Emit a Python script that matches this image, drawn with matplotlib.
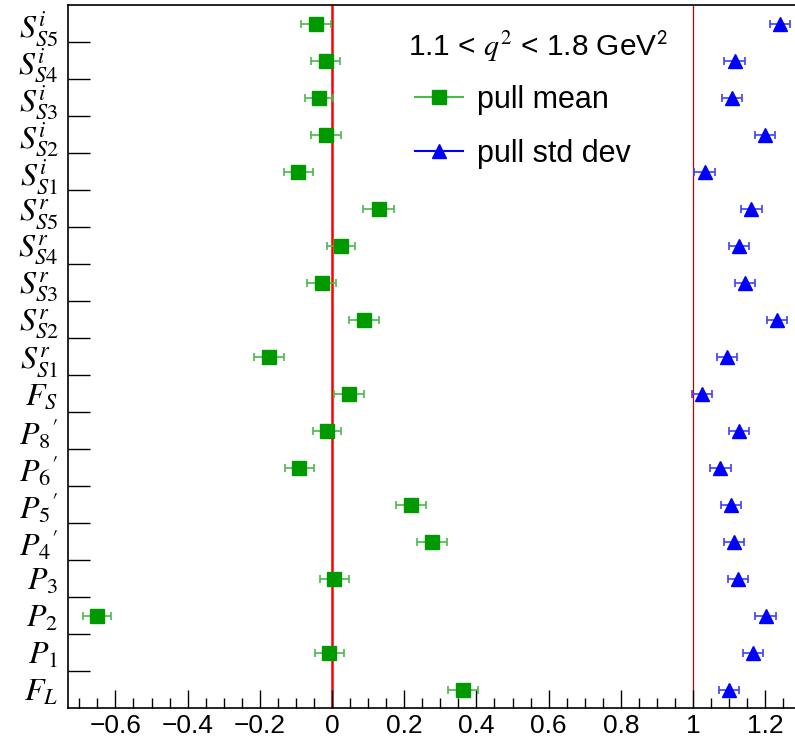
import matplotlib
matplotlib.use("Agg")
import matplotlib.pyplot as plt
from matplotlib.ticker import MultipleLocator, FixedLocator
from matplotlib.lines import Line2D

plt.rcParams['font.family'] = ['Liberation Sans', 'DejaVu Sans']
plt.rcParams['mathtext.fontset'] = 'stix'

# parameters, bottom to top
labels = [r"$F_{\mathit{L}}$", r"$P_{\mathit{1}}$", r"$P_{\mathit{2}}$", r"$P_{\mathit{3}}$",
          r"$P_{\mathit{4}}{}^{\prime}$", r"$P_{\mathit{5}}{}^{\prime}$",
          r"$P_{\mathit{6}}{}^{\prime}$", r"$P_{\mathit{8}}{}^{\prime}$",
          r"$F_{\mathit{S}}$",
          r"$S^{r}_{\mathit{S1}}$", r"$S^{r}_{\mathit{S2}}$", r"$S^{r}_{\mathit{S3}}$",
          r"$S^{r}_{\mathit{S4}}$", r"$S^{r}_{\mathit{S5}}$",
          r"$S^{i}_{\mathit{S1}}$", r"$S^{i}_{\mathit{S2}}$", r"$S^{i}_{\mathit{S3}}$",
          r"$S^{i}_{\mathit{S4}}$", r"$S^{i}_{\mathit{S5}}$"]

pull_mean = [0.363, -0.008, -0.651, 0.006, 0.277, 0.219, -0.091, -0.014, 0.047,
             -0.175, 0.089, -0.028, 0.025, 0.130,
             -0.094, -0.017, -0.036, -0.017, -0.044]
pull_mean_err = [0.042, 0.040, 0.040, 0.040, 0.042, 0.041, 0.040, 0.040, 0.041,
                 0.041, 0.042, 0.040, 0.040, 0.043,
                 0.040, 0.041, 0.040, 0.040, 0.041]

pull_std = [1.100, 1.167, 1.201, 1.124, 1.114, 1.105, 1.076, 1.127, 1.024,
            1.094, 1.233, 1.144, 1.127, 1.162,
            1.032, 1.199, 1.109, 1.115, 1.241]
pull_std_err = [0.028] * 19

ypos = list(range(len(labels)))

fig = plt.figure(figsize=(7.95, 7.39), dpi=100)
ax = fig.add_axes([68 / 795, 31 / 739, 1 - 68 / 795, 703 / 739])

ax.axvline(0, color='#ff0000', lw=1.8, zorder=1)
ax.axvline(1, color='#c00000', lw=0.9, zorder=1)

ax.errorbar(pull_mean, ypos, xerr=pull_mean_err, fmt='s', ms=10.5,
            color='#009900', ecolor='#4cb84c', elinewidth=1.2, capsize=3,
            capthick=1.2, zorder=3)
ax.errorbar(pull_std, ypos, xerr=pull_std_err, fmt='^', ms=9.5,
            color='#0000ff', ecolor='#4040ff', elinewidth=1.2, capsize=3,
            capthick=1.2, zorder=3)

ax.set_xlim(-0.7313, 1.2825)
ax.set_ylim(-0.5, len(labels) - 0.5)

ax.xaxis.set_minor_locator(MultipleLocator(0.05))
ax.set_xticks([-0.6, -0.4, -0.2, 0, 0.2, 0.4, 0.6, 0.8, 1.0, 1.2])
ax.set_xticklabels(['\u22120.6', '\u22120.4', '\u22120.2', '0', '0.2', '0.4',
                    '0.6', '0.8', '1', '1.2'])
ax.tick_params(axis='x', which='major', direction='in', length=13, width=1,
               labelsize=19, pad=4)
ax.tick_params(axis='x', which='minor', direction='in', length=7, width=1)

ax.yaxis.set_major_locator(FixedLocator(ypos))
ax.set_yticklabels(labels)
ax.yaxis.set_minor_locator(FixedLocator([y + 0.5 for y in ypos[:-1]]))
ax.tick_params(axis='y', which='major', length=0, labelsize=23, pad=7)
ax.tick_params(axis='y', which='minor', direction='in', length=16, width=1)

ax.spines['right'].set_visible(False)
for s in ['left', 'bottom', 'top']:
    ax.spines[s].set_linewidth(1.2)

fig.text(408 / 795, 1 - 47 / 739,
         r"1.1 < $q^{2}$ < 1.8 GeV$^{\mathsf{2}}$", fontsize=21.5,
         va='center', ha='left')

handles = [Line2D([], [], color='#4cb84c', marker='s', ms=10.5, mfc='#009900',
                  mec='#009900', lw=1.5),
           Line2D([], [], color='#0000ff', marker='^', ms=9.5, mfc='#0000ff',
                  mec='#0000ff', lw=1.5)]
fig.legend(handles, ['pull mean', 'pull std dev'], loc='upper left',
           bbox_to_anchor=(387 / 795, 1 - 57 / 739), frameon=False,
           fontsize=22, handlelength=1.6, handletextpad=0.45, labelspacing=0.8)

fig.savefig("out.png", dpi=100)
